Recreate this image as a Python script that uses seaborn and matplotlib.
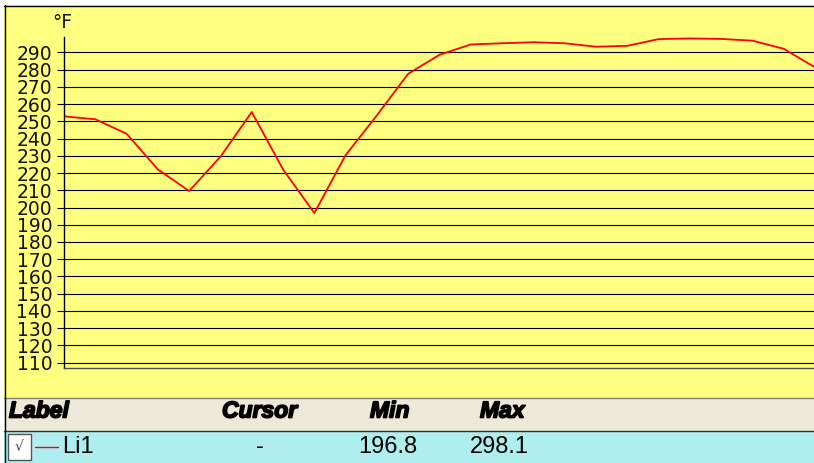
import matplotlib
matplotlib.use("Agg")
import matplotlib.pyplot as plt
import matplotlib.patheffects as pe
from matplotlib.patches import Rectangle
from matplotlib.lines import Line2D
import seaborn as sns

# Temperature trace (°F), one reading per sample
samples = list(range(25))
temps = [252.9, 251.2, 242.8, 222.1, 209.6, 229.5, 255.4, 222.1, 196.8, 230.4,
         253.5, 277.6, 288.6, 294.6, 295.3, 295.9, 295.3, 293.3, 293.8, 297.7,
         298.1, 297.8, 296.8, 292.1, 281.3]
yticks = list(range(110, 300, 10))
unit = "°F"

# Legend table under the chart
header = ["Label", "Cursor", "Min", "Max"]
row = ["Li1", "-", "196.8", "298.1"]

sns.set_style("white")

W, H = 814, 463
fig = plt.figure(figsize=(W / 100, H / 100), dpi=100, facecolor="white")


def fx(px):
    return px / W


def fy(py):
    return 1 - py / H


def box(x0, y0, x1, y1, z=-5, **kw):
    fig.patches.append(Rectangle((fx(x0), fy(y1)), fx(x1) - fx(x0), fy(y0) - fy(y1),
                                 transform=fig.transFigure, zorder=z, **kw))


def hline(x0, x1, y, **kw):
    fig.add_artist(Line2D([fx(x0), fx(x1)], [fy(y), fy(y)], transform=fig.transFigure, **kw))


# panels
box(4, 5, 816, 398, fc="#FFFF80", ec="none")
box(4, 398, 816, 431, fc="#ECE9D8", ec="none")
box(4, 431, 816, 464, fc="#AFEEEE", ec="none")
hline(4, 816, 5.5, color="black", lw=1)
hline(4, 816, 397.5, color="#808080", lw=1)
hline(4, 816, 431, color="#303030", lw=1)
fig.add_artist(Line2D([fx(4.5), fx(4.5)], [fy(5), fy(464)], transform=fig.transFigure,
                      color="black", lw=1))

# chart
ax = fig.add_axes([fx(64), fy(368), fx(815) - fx(64), fy(36.7) - fy(368)])
ax.set_zorder(2)
ax.set_facecolor("none")
sns.lineplot(x=samples, y=temps, ax=ax, color="red", linewidth=1.3)
ax.set_xlim(0, 24)
ax.set_ylim(106.9, 299.1)
ax.set_yticks(yticks)
ax.set_xticks([])
ax.set_xlabel("")
ax.set_ylabel("")
ax.yaxis.grid(True, color="black", linewidth=0.8)
ax.set_axisbelow(True)
ax.tick_params(axis="y", left=True, length=5, width=0.8, color="black",
               pad=3.5, labelsize=13.5, labelcolor="#111111")
for s in ["top", "right"]:
    ax.spines[s].set_visible(False)
ax.spines["left"].set_color("black")
ax.spines["left"].set_linewidth(1)
ax.spines["bottom"].set_color("#505050")
ax.spines["bottom"].set_linewidth(1)

fig.text(fx(52), fy(28), unit, fontsize=13.5, ha="left", va="baseline", color="#111111")

# legend table
hx = [9, 222, 370, 480]
bold = [pe.withStroke(linewidth=1.2, foreground="black")]
for x, t in zip(hx, header):
    fig.text(fx(x), fy(411), t, fontsize=16.5, fontweight="bold", fontstyle="italic",
             family="Liberation Sans", ha="left", va="center", color="black",
             path_effects=bold)

box(8, 434, 31, 460, z=3, fc="white", ec="#555555", lw=1)
fig.text(fx(19.5), fy(447), "\u221a", fontsize=10, ha="center", va="center",
         color="#444444", zorder=4)
hline(35, 58, 446.7, color="red", lw=1)

rx = [62, 256, 358, 470]
for x, t in zip(rx, row):
    fig.text(fx(x), fy(447), t, fontsize=17, family="Liberation Sans",
             ha="left", va="center", color="black")

fig.savefig("out.png", dpi=100, facecolor=fig.get_facecolor())
